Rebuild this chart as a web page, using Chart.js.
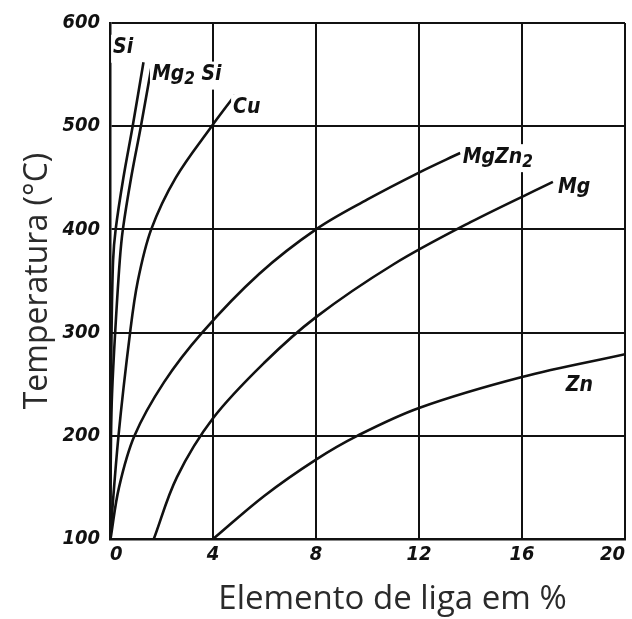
<!DOCTYPE html>
<html>
<head>
<meta charset="utf-8">
<script src="https://cdn.jsdelivr.net/npm/chart.js@4.4.1/dist/chart.umd.min.js"></script>
<style>
  html, body { margin: 0; padding: 0; background: #fff; }
  #wrap { width: 632px; height: 619px; }
</style>
</head>
<body>
<div id="wrap"><canvas id="chart"></canvas></div>
<script>
// eixos
const xMin = 0, xMax = 20, xStep = 4;
const yMin = 100, yMax = 600, yStep = 100;

// curvas de solubilidade (x = % do elemento, y = temperatura °C)
const siX = [0, 0.02, 0.06, 0.12, 0.22, 0.52, 0.88, 1.3];
const siY = [100, 200, 300, 370, 400, 450, 500, 562];

const mg2siX = [0, 0.04, 0.08, 0.2, 0.38, 0.5, 0.82, 1.2, 1.6];
const mg2siY = [100, 200, 241, 300, 370, 400, 450, 500, 556];

const cuX = [0, 0.33, 0.78, 1.08, 1.6, 2.55, 3.95, 4.85];
const cuY = [100, 200, 300, 350, 400, 450, 500, 530];

const mgzn2X = [0.02, 0.35, 0.95, 2.1, 3.58, 5.8, 8, 10, 12, 13.6];
const mgzn2Y = [100, 150, 200, 252, 300, 357, 400, 429, 455, 474];

const mgX = [1.7, 2.6, 4, 6, 8, 11, 14, 17.2];
const mgY = [100, 160, 217, 271, 315, 366, 407, 446];

const znX = [4, 6, 8, 9.6, 12, 16, 20];
const znY = [100, 142, 177, 200, 227, 257, 279];

const seriesNames = ['Si', 'Mg2Si', 'Cu', 'MgZn2', 'Mg', 'Zn'];
const seriesX = [siX, mg2siX, cuX, mgzn2X, mgX, znX];
const seriesY = [siY, mg2siY, cuY, mgzn2Y, mgY, znY];

const xTitle = 'Elemento de liga em %';
const yTitle = 'Temperatura (°C)';

const tickFont = { family: '"DejaVu Sans Condensed", "DejaVu Sans", sans-serif', size: 20, style: 'italic', weight: 'bold' };
const labelFont = 'italic bold 21px "DejaVu Sans Condensed", "DejaVu Sans", sans-serif';
const subFont = 'italic bold 17px "DejaVu Sans Condensed", "DejaVu Sans", sans-serif';

const toPoints = (xs, ys) => xs.map((x, i) => ({ x, y: ys[i] }));

// nomes das curvas escritos no gráfico, com fundo branco (corta a grade como no original)
const curveLabels = {
  id: 'curveLabels',
  afterDatasetsDraw(chart, _args, opts) {
    const { ctx, scales: { x, y } } = chart;
    ctx.save();
    ctx.textBaseline = 'middle';
    ctx.textAlign = 'left';
    for (const item of opts.items) {
      const px = x.getPixelForValue(item.x);
      const py = y.getPixelForValue(item.y);
      let w = 0;
      for (const [text, sub] of item.parts) {
        ctx.font = sub ? subFont : labelFont;
        w += ctx.measureText(text).width;
      }
      ctx.fillStyle = '#fff';
      ctx.fillRect(px - 2, py - 13, w + 4, 28);
      ctx.fillStyle = '#111';
      let cx = px;
      for (const [text, sub] of item.parts) {
        ctx.font = sub ? subFont : labelFont;
        ctx.fillText(text, cx, sub ? py + 5 : py);
        cx += ctx.measureText(text).width;
      }
    }
    ctx.restore();
  },
};

// título do eixo x (um pouco deslocado para a direita no original)
const xAxisTitle = {
  id: 'xAxisTitle',
  afterDraw(chart, _args, opts) {
    const { ctx, chartArea } = chart;
    ctx.save();
    ctx.font = '33px "Open Sans", sans-serif';
    ctx.fillStyle = '#2a2a2a';
    ctx.textAlign = 'center';
    ctx.textBaseline = 'middle';
    ctx.fillText(opts.text, (chartArea.left + chartArea.right) / 2 + 25, chart.height - 19);
    ctx.restore();
  },
};

new Chart(document.getElementById('chart'), {
  type: 'line',
  data: {
    datasets: seriesNames.map((name, i) => ({
      label: name,
      data: toPoints(seriesX[i], seriesY[i]),
      borderColor: '#111',
      borderWidth: 2.6,
      pointRadius: 0,
      tension: 0.35,
      fill: false,
    })),
  },
  plugins: [curveLabels, xAxisTitle],
  options: {
    responsive: true,
    maintainAspectRatio: false,
    animation: false,
    layout: { padding: { top: 23, right: 7, left: 0, bottom: 0 } },
    scales: {
      x: {
        type: 'linear',
        min: xMin,
        max: xMax,
        afterFit(scale) { scale.height = 80; },
        border: { color: '#111', width: 2.5 },
        grid: { color: '#111', lineWidth: 2, drawTicks: false },
        ticks: { stepSize: xStep, color: '#111', font: tickFont, padding: 4, align: 'inner', maxRotation: 0 },
      },
      y: {
        min: yMin,
        max: yMax,
        afterFit(scale) { scale.width = 110; },
        border: { color: '#111', width: 2.5 },
        grid: { color: '#111', lineWidth: 2, drawTicks: false },
        ticks: { stepSize: yStep, color: '#111', font: tickFont, padding: 10 },
        title: {
          display: true,
          text: yTitle,
          color: '#2a2a2a',
          font: { family: '"Open Sans", sans-serif', size: 32, weight: 'normal' },
          padding: { top: 19, bottom: 0 },
        },
      },
    },
    plugins: {
      legend: { display: false },
      tooltip: { enabled: false },
      curveLabels: {
        items: [
          { x: 0.12, y: 576, parts: [['Si', 0]] },
          { x: 1.63, y: 550, parts: [['Mg', 0], ['2', 1], [' Si', 0]] },
          { x: 4.78, y: 518, parts: [['Cu', 0]] },
          { x: 13.7, y: 470, parts: [['MgZn', 0], ['2', 1]] },
          { x: 17.4, y: 441, parts: [['Mg', 0]] },
          { x: 17.7, y: 249, parts: [['Zn', 0]] },
        ],
      },
      xAxisTitle: { text: xTitle },
    },
  },
});
</script>
</body>
</html>
